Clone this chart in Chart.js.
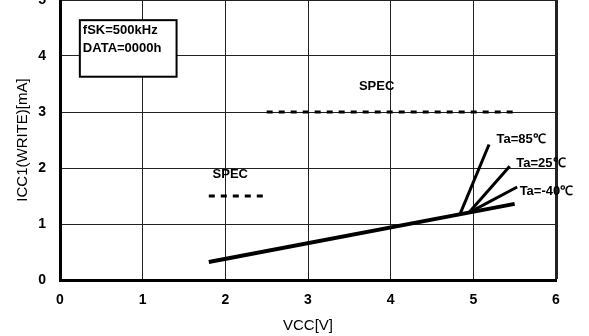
<!DOCTYPE html>
<html>
<head>
<meta charset="utf-8">
<script src="https://cdn.jsdelivr.net/npm/chart.js@4"></script>
<style>
  html, body { margin: 0; padding: 0; background: #fff; }
  #wrap { width: 589px; height: 336px; }
</style>
</head>
<body>
<div id="wrap"><canvas id="icc_plot"></canvas></div>
<script>
'use strict';

// curves (VCC [V], ICC1 [mA])
const mainX = [1.8, 5.5];
const mainY = [0.32, 1.36];
const ta85X = [4.84, 5.19];
const ta85Y = [1.18, 2.42];
const ta25X = [4.95, 5.44];
const ta25Y = [1.21, 2.03];
const taM40X = [4.97, 5.53];
const taM40Y = [1.22, 1.66];

// spec limits
const specHighX = [2.5, 5.5];
const specHighY = [3, 3];
const specLowX = [1.8, 2.5];
const specLowY = [1.5, 1.5];

const xTicks = [0, 1, 2, 3, 4, 5, 6];
const yTicks = [0, 1, 2, 3, 4, 5];
const conditions = ['fSK=500kHz', 'DATA=0000h'];

// text notes placed in data units
const notes = [
    { text: 'SPEC', x: 3.83, y: 3.45, align: 'center' },
    { text: 'SPEC', x: 2.06, y: 1.89, align: 'center' },
    { text: 'Ta=85℃', x: 5.28, y: 2.51, align: 'left' },
    { text: 'Ta=25℃', x: 5.52, y: 2.09, align: 'left' },
    { text: 'Ta=-40℃', x: 5.56, y: 1.58, align: 'left' }
];

const FONT = '"Liberation Sans", Arial, sans-serif';

function pts(xs, ys) {
    return xs.map((x, i) => ({ x: x, y: ys[i] }));
}

function line(data, width, dash) {
    return {
        data: data,
        showLine: true,
        borderColor: '#000',
        borderWidth: width,
        borderDash: dash || [],
        pointRadius: 0,
        fill: false,
        tension: 0
    };
}

const notesPlugin = {
    id: 'notes',
    afterDatasetsDraw(chart) {
        const ctx = chart.ctx;
        const xs = chart.scales.x;
        const ys = chart.scales.y;
        ctx.save();
        ctx.fillStyle = '#000';
        ctx.textBaseline = 'middle';
        ctx.font = 'bold 13px ' + FONT;
        notes.forEach(n => {
            ctx.textAlign = n.align;
            ctx.fillText(n.text, xs.getPixelForValue(n.x), ys.getPixelForValue(n.y));
        });

        // condition box, upper left
        const left = xs.getPixelForValue(0.24);
        const right = xs.getPixelForValue(1.41);
        const top = ys.getPixelForValue(4.64);
        const bottom = ys.getPixelForValue(3.63);
        ctx.fillStyle = '#fff';
        ctx.fillRect(left, top, right - left, bottom - top);
        ctx.strokeStyle = '#000';
        ctx.lineWidth = 2;
        ctx.strokeRect(left, top, right - left, bottom - top);
        ctx.fillStyle = '#000';
        ctx.textAlign = 'left';
        ctx.font = 'bold 13px ' + FONT;
        conditions.forEach((c, i) => {
            ctx.fillText(c, left + 3, top + 10 + i * 18);
        });
        ctx.restore();
    }
};

const chart = new Chart('icc_plot', {
    type: 'scatter',
    data: {
        datasets: [
            line(pts(mainX, mainY), 4),
            line(pts(ta85X, ta85Y), 3),
            line(pts(ta25X, ta25Y), 3),
            line(pts(taM40X, taM40Y), 3),
            line(pts(specHighX, specHighY), 3, [6, 6]),
            line(pts(specLowX, specLowY), 3, [6, 6])
        ]
    },
    options: {
        responsive: true,
        maintainAspectRatio: false,
        animation: false,
        layout: { padding: { top: -3, right: 33, left: 0, bottom: 0 } },
        plugins: {
            legend: { display: false },
            tooltip: { enabled: false }
        },
        scales: {
            x: {
                type: 'linear',
                min: 0,
                max: 6,
                afterBuildTicks: s => { s.ticks = xTicks.map(v => ({ value: v })); },
                afterFit: s => { s.height = 56; },
                ticks: {
                    color: '#000',
                    padding: 12,
                    font: { family: FONT, size: 14, weight: 'bold' }
                },
                grid: {
                    color: '#222',
                    lineWidth: c => (c.tick && c.tick.value === 6 ? 3 : 1),
                    drawTicks: false
                },
                border: { color: '#000', width: 3 },
                title: {
                    display: true,
                    text: 'VCC[V]',
                    color: '#000',
                    padding: { top: 0, bottom: 1 },
                    font: { family: FONT, size: 15 }
                }
            },
            y: {
                type: 'linear',
                min: 0,
                max: 5,
                afterBuildTicks: s => { s.ticks = yTicks.map(v => ({ value: v })); },
                afterFit: s => { s.width = 60; s.paddingTop = 0; },
                ticks: {
                    color: '#000',
                    padding: 14,
                    font: { family: FONT, size: 14, weight: 'bold' }
                },
                grid: {
                    color: '#222',
                    lineWidth: 1,
                    drawTicks: false
                },
                border: { color: '#000', width: 3 },
                title: {
                    display: true,
                    text: 'ICC1(WRITE)[mA]',
                    color: '#000',
                    padding: { top: 14, bottom: 0 },
                    font: { family: FONT, size: 15 }
                }
            }
        }
    },
    plugins: [notesPlugin]
});
</script>
</body>
</html>
